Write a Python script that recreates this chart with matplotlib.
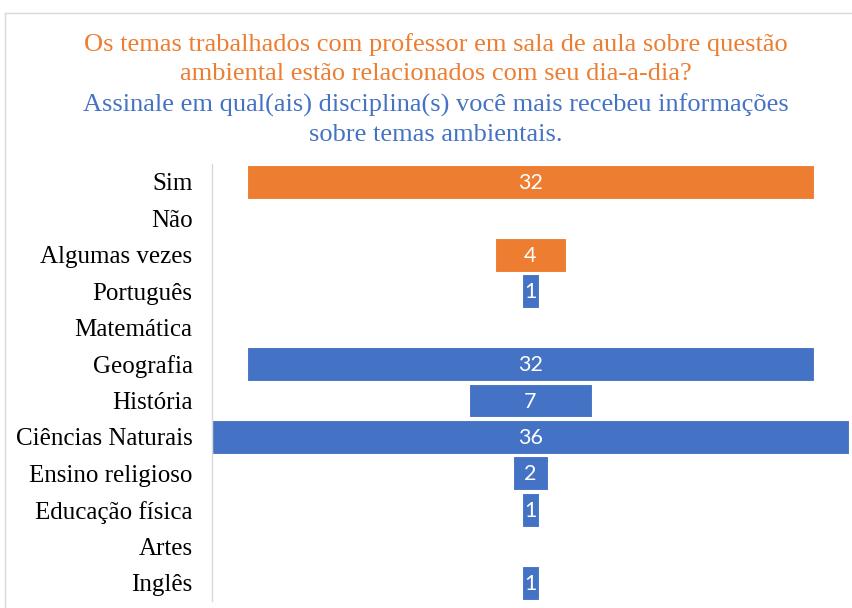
import matplotlib
matplotlib.use("Agg")
import matplotlib.pyplot as plt
from matplotlib.lines import Line2D

categories = ["Sim", "Não", "Algumas vezes", "Português", "Matemática", "Geografia",
              "História", "Ciências Naturais", "Ensino religioso", "Educação física",
              "Artes", "Inglês"]
values = [32, 0, 4, 1, 0, 32, 7, 36, 2, 1, 0, 1]
groups = ["q1", "q1", "q1", "q2", "q2", "q2", "q2", "q2", "q2", "q2", "q2", "q2"]

ORANGE = "#ED7D31"
BLUE = "#4472C4"
colors = {"q1": ORANGE, "q2": BLUE}

fig = plt.figure(figsize=(8.52, 6.08), dpi=100)
ax = fig.add_axes([212/852, 1-601/608, (849-212)/852, (601-163.5)/608])

ys = list(range(len(categories)))
for y, v, g in zip(ys, values, groups):
    if v <= 0:
        continue
    ax.barh(y, v, left=-v/2, height=0.93, color=colors[g], edgecolor="white", linewidth=0.8)
    ax.text(0, y + 0.03, str(v), ha="center", va="center", color="white",
            fontsize=15.5, family=["Lato", "DejaVu Sans"])

ax.set_xlim(-18, 18)
ax.set_ylim(11.5, -0.5)
ax.set_yticks(ys)
ax.set_yticklabels(categories, family="Liberation Serif", fontsize=18, color="#000000")
ax.set_xticks([])
ax.tick_params(axis="y", length=0, pad=14)
for s in ["top", "right", "bottom"]:
    ax.spines[s].set_visible(False)
ax.spines["left"].set_color("#D9D9D9")
ax.spines["left"].set_linewidth(1)

# outer chart frame (partially visible)
fig.add_artist(Line2D([5/852, 1], [1-13/608, 1-13/608], transform=fig.transFigure, color="#D9D9D9", lw=1))
fig.add_artist(Line2D([5/852, 5/852], [0, 1-13/608], transform=fig.transFigure, color="#D9D9D9", lw=1))

title_lines = [
    ("Os temas trabalhados com professor em sala de aula sobre questão", ORANGE, 45),
    ("ambiental estão relacionados com seu dia-a-dia?", ORANGE, 74),
    ("Assinale em qual(ais) disciplina(s) você mais recebeu informações", BLUE, 105),
    ("sobre temas ambientais.", BLUE, 135),
]
for txt, c, ypx in title_lines:
    fig.text(436/852, 1-ypx/608, txt, ha="center", va="center", color=c,
             family="Liberation Serif", fontsize=19)

fig.savefig("out.png", dpi=100, facecolor="white")
